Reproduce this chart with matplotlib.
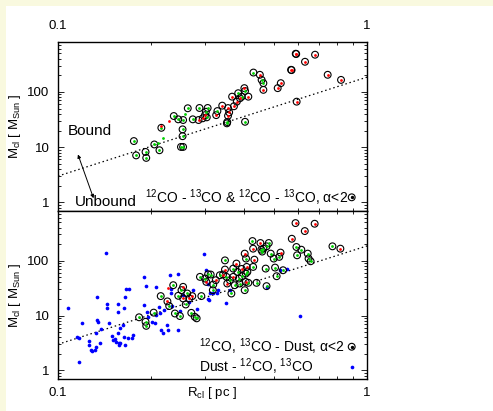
import numpy as np
import matplotlib
matplotlib.use("Agg")
import matplotlib.pyplot as plt
from matplotlib.ticker import LogLocator, NullFormatter
from matplotlib.patches import Rectangle

plt.rcParams['font.family'] = ['Liberation Sans', 'DejaVu Sans']
plt.rcParams['mathtext.fontset'] = 'custom'
plt.rcParams['mathtext.rm'] = 'Liberation Sans'
plt.rcParams['mathtext.it'] = 'Liberation Sans'

# virial line  M = A * R^B
line_A = 185.0
line_B = 1.79

# top panel: 12CO - 13CO clumps  (kind g/r, ring = alpha<2)
top_R = [0.176, 0.179, 0.192, 0.193, 0.205, 0.211, 0.213, 0.216, 0.216, 0.219,
         0.229, 0.237, 0.245, 0.254, 0.257, 0.253, 0.253, 0.250, 0.254, 0.263,
         0.273, 0.287, 0.305, 0.285, 0.294, 0.299, 0.301, 0.303, 0.325, 0.328,
         0.340, 0.355, 0.358, 0.355, 0.353, 0.352, 0.366, 0.371, 0.379, 0.383,
         0.388, 0.393, 0.401, 0.403, 0.413, 0.403, 0.429, 0.450, 0.456, 0.462,
         0.462, 0.514, 0.526, 0.568, 0.570, 0.588, 0.590, 0.630, 0.679, 0.592,
         0.746, 0.824]
top_M = [12.9, 7.1, 8.2, 6.4, 11.2, 11.7, 8.8, 22.4, 24.5, 14.4,
         30, 36.6, 31.9, 31, 39.3, 21, 15.8, 10.1, 10.1, 50.6,
         31.9, 51.2, 51.2, 31, 33.3, 38, 43.8, 34.7, 38, 45,
         56.4, 51, 42.7, 37, 28.5, 27, 82, 55, 66.6, 94.7,
         76.8, 82, 117, 104, 82, 28.8, 224, 204, 165, 144,
         109, 117, 144, 251, 248, 491, 485, 351, 471, 66.6,
         204, 165]
top_kind = ['g', 'g', 'g', 'g', 'g', 'g', 'g', 'g', 'r', 'g',
            'r', 'g', 'g', 'g', 'g', 'g', 'g', 'g', 'g', 'g',
            'g', 'g', 'g', 'r', 'r', 'r', 'g', 'g', 'r', 'g',
            'r', 'r', 'r', 'r', 'g', 'g', 'r', 'r', 'r', 'g',
            'r', 'g', 'r', 'g', 'r', 'g', 'g', 'r', 'g', 'g',
            'r', 'r', 'r', 'r', 'r', 'r', 'r', 'r', 'r', 'r',
            'r', 'r']
top_ring = [1, 1, 1, 1, 1, 0, 1, 1, 0, 0,
            0, 1, 1, 1, 0, 1, 1, 1, 1, 1,
            1, 1, 1, 1, 1, 1, 1, 1, 1, 1,
            1, 1, 1, 1, 1, 1, 1, 1, 1, 1,
            1, 1, 1, 1, 1, 1, 1, 1, 1, 1,
            1, 1, 1, 1, 1, 1, 1, 1, 1, 1,
            1, 1]

# bottom panel: 12CO,13CO - Dust clumps
bot_R = [0.183, 0.192, 0.193, 0.204, 0.215, 0.226, 0.229, 0.236, 0.239, 0.248,
         0.245, 0.251, 0.254, 0.254, 0.259, 0.262, 0.266, 0.270, 0.272, 0.277,
         0.281, 0.291, 0.288, 0.299, 0.302, 0.306, 0.312, 0.318, 0.317, 0.324,
         0.334, 0.342, 0.347, 0.347, 0.351, 0.353, 0.360, 0.364, 0.369, 0.369,
         0.373, 0.378, 0.381, 0.385, 0.387, 0.393, 0.394, 0.402, 0.405, 0.405,
         0.406, 0.408, 0.410, 0.413, 0.402, 0.439, 0.428, 0.426, 0.428, 0.432,
         0.452, 0.455, 0.458, 0.462, 0.473, 0.481, 0.488, 0.470, 0.473, 0.499,
         0.504, 0.510, 0.520, 0.525, 0.535, 0.571, 0.587, 0.591, 0.594, 0.613,
         0.629, 0.643, 0.647, 0.657, 0.677, 0.773, 0.820, 0.227]
bot_M = [9.3, 7.7, 6.5, 11.3, 22.6, 18.1, 14.9, 35.7, 10.9, 9.8,
         22.9, 29, 33.3, 20.5, 15.9, 25.2, 20.5, 11.2, 22.6, 9.5,
         8.9, 22.6, 50.6, 47.2, 41, 56.5, 55.8, 36.7, 29, 44,
         54.2, 55.8, 101, 68.7, 50.6, 38.3, 44, 25.2, 71.6, 50.6,
         35.7, 88.3, 62.3, 47.2, 38.3, 70.6, 52, 134, 58, 41,
         109, 76.8, 62.3, 39.4, 29, 39.4, 76.8, 227, 165, 104,
         209, 158, 146, 165, 182, 209, 134, 71.6, 34.3, 109,
         74.7, 52, 117, 140, 66.8, 250, 482, 177, 125, 158,
         345, 134, 109, 97.3, 469, 182, 165, 31.5]
bot_kind = ['g', 'g', 'g', 'g', 'g', 'r', 'g', 'g', 'g', 'g',
            'g', 'g', 'r', 'r', 'g', 'g', 'r', 'g', 'r', 'g',
            'g', 'g', 'g', 'g', 'r', 'g', 'g', 'g', 'g', 'r',
            'g', 'r', 'g', 'r', 'g', 'r', 'g', 'g', 'g', 'r',
            'g', 'r', 'g', 'g', 'g', 'r', 'g', 'r', 'g', 'r',
            'g', 'r', 'g', 'g', 'g', 'g', 'g', 'g', 'r', 'r',
            'r', 'g', 'g', 'g', 'g', 'g', 'g', 'g', 'g', 'g',
            'g', 'g', 'g', 'r', 'g', 'r', 'r', 'g', 'g', 'g',
            'r', 'g', 'g', 'g', 'r', 'g', 'r', 'r']
bot_ring = [1] * 87 + [0]

# Dust - 12CO, 13CO (blue)
dust_R = [0.108, 0.117, 0.120, 0.115, 0.117, 0.126, 0.126, 0.128, 0.129, 0.132,
          0.133, 0.135, 0.134, 0.137, 0.138, 0.133, 0.144, 0.144, 0.146, 0.149,
          0.151, 0.153, 0.154, 0.156, 0.156, 0.156, 0.157, 0.158, 0.159, 0.159,
          0.162, 0.163, 0.164, 0.165, 0.166, 0.165, 0.169, 0.170, 0.174, 0.175,
          0.190, 0.190, 0.193, 0.194, 0.196, 0.201, 0.206, 0.208, 0.207, 0.213,
          0.214, 0.216, 0.219, 0.221, 0.2245, 0.227, 0.230, 0.232, 0.232, 0.234,
          0.244, 0.245, 0.248, 0.254, 0.266, 0.274, 0.281, 0.296, 0.302, 0.306,
          0.306, 0.308, 0.311, 0.318, 0.326, 0.330, 0.351, 0.360, 0.473, 0.522,
          0.549, 0.609, 0.143, 0.134]
dust_M = [13.5, 1.40, 7.4, 4.0, 3.9, 3.5, 2.9, 2.37, 2.3, 2.37,
          2.72, 7.7, 21.9, 3.1, 5.6, 4.75, 16.2, 13.5, 7.4, 4.25,
          3.6, 3.7, 3.35, 16.2, 11.7, 4.75, 3.1, 2.9, 5.9, 3.2,
          6.7, 4.0, 13.5, 21.9, 31, 2.9, 3.9, 31, 3.9, 4.4,
          50.6, 15.5, 34.3, 11.7, 9.5, 7.7, 7.2, 33.3, 10.2, 14.5,
          11.2, 5.5, 4.75, 12.6, 6.7, 5.5, 54, 29.8, 25.2, 14.9,
          5.5, 58, 12.1, 23.5, 17.8, 29, 12.9, 134, 66.8, 38.3,
          19.9, 19.1, 25.2, 25.2, 25.2, 29, 17.1, 29, 33.3, 66.8,
          71.6, 9.8, 136, 8.3]

col = {'g': '#00d000', 'r': '#ff0000'}
ring_s = 24
dot_s = 4

fig = plt.figure(figsize=(4.93, 4.11), dpi=100, facecolor='#f9f9df')
fig.patches.append(Rectangle((6 / 493, 0), 1, 1 - 6 / 411, transform=fig.transFigure,
                             facecolor='white', edgecolor='none', zorder=-10))

left = 58 / 493
width = 309 / 493
ax1 = fig.add_axes([left, 1 - 211 / 411, width, 169 / 411])
ax2 = fig.add_axes([left, 1 - 379 / 411, width, 168 / 411])

rr = np.logspace(-1, 0, 50)

for ax in (ax1, ax2):
    ax.set_xscale('log')
    ax.set_yscale('log')
    ax.set_xlim(0.1, 1)
    ax.set_ylim(0.7, 800)
    ax.plot(rr, line_A * rr ** line_B, color='k', ls=(0, (1.2, 2.2)), lw=0.9)
    ax.set_xticks([0.1, 1], ['0.1', '1'])
    ax.set_yticks([1, 10, 100], ['1', '10', '100'])
    ax.xaxis.set_minor_locator(LogLocator(subs=np.arange(2, 10)))
    ax.yaxis.set_minor_locator(LogLocator(subs=np.arange(2, 10)))
    ax.xaxis.set_minor_formatter(NullFormatter())
    ax.yaxis.set_minor_formatter(NullFormatter())
    ax.tick_params(which='both', direction='in', top=True, right=True, labelsize=9.5, pad=6)
    ax.tick_params(which='major', length=4.5, width=0.6)
    ax.tick_params(which='minor', length=2.5, width=0.6)
    for s in ax.spines.values():
        s.set_linewidth(1.0)
    ax.set_ylabel(r'M$_{\rm cl}$ [ M$_{\rm Sun}$ ]', fontsize=9.5, labelpad=3)

ax1.tick_params(labeltop=True, labelbottom=False)
ax1.tick_params(axis='x', pad=7)

# top panel points
tR = np.array(top_R)
tM = np.array(top_M)
tring = np.array(top_ring) == 1
ax1.scatter(tR[tring], tM[tring], s=ring_s, facecolors='none', edgecolors='k', linewidths=0.8, zorder=3)
for k in ('g', 'r'):
    m = np.array(top_kind) == k
    ax1.scatter(tR[m], tM[m], s=dot_s, color=col[k], linewidths=0, zorder=4)

# bottom panel points
bR = np.array(bot_R)
bM = np.array(bot_M)
bring = np.array(bot_ring) == 1
ax2.scatter(dust_R, dust_M, s=7, color='#0000ff', linewidths=0, zorder=2)
ax2.scatter(bR[bring], bM[bring], s=ring_s, facecolors='none', edgecolors='k', linewidths=0.8, zorder=3)
for k in ('g', 'r'):
    m = np.array(bot_kind) == k
    ax2.scatter(bR[m], bM[m], s=dot_s, color=col[k], linewidths=0, zorder=4)

# annotations top panel
ax1.text(0.031, 0.475, 'Bound', transform=ax1.transAxes, fontsize=11, va='center', ha='left')
ax1.text(0.053, 0.055, 'Unbound', transform=ax1.transAxes, fontsize=11, va='center', ha='left')
ax1.annotate('', xy=(0.0615, 0.35), xytext=(0.118, 0.06), xycoords='axes fraction',
             arrowprops=dict(arrowstyle='<|-|>', color='k', lw=0.7, mutation_scale=5))

ax1.text(0.282, 0.081, r'$^{12}$CO - $^{13}$CO & $^{12}$CO - $^{13}$CO, α<2',
         transform=ax1.transAxes, fontsize=10, va='center', ha='left')
ax1.scatter([0.9505], [0.081], s=ring_s, facecolors='none', edgecolors='k', linewidths=0.8,
            transform=ax1.transAxes, clip_on=False)
ax1.scatter([0.9505], [0.081], s=2, color='k', transform=ax1.transAxes, clip_on=False)

ax2.text(0.456, 0.192, r'$^{12}$CO, $^{13}$CO - Dust, α<2',
         transform=ax2.transAxes, fontsize=10, va='center', ha='left')
ax2.scatter([0.9505], [0.192], s=ring_s, facecolors='none', edgecolors='k', linewidths=0.8,
            transform=ax2.transAxes, clip_on=False)
ax2.scatter([0.9505], [0.192], s=2, color='k', transform=ax2.transAxes, clip_on=False)
ax2.text(0.456, 0.073, r'Dust - $^{12}$CO, $^{13}$CO',
         transform=ax2.transAxes, fontsize=10, va='center', ha='left')
ax2.scatter([0.9505], [0.073], s=7, color='#0000ff', linewidths=0,
            transform=ax2.transAxes, clip_on=False)

# x label sits on the same line as the tick labels
ax2.text(0.5, -0.085, r'R$_{\rm cl}$ [ pc ]', transform=ax2.transAxes,
         fontsize=9.5, va='center', ha='center')

fig.savefig('out.png', dpi=100, facecolor=fig.get_facecolor())
